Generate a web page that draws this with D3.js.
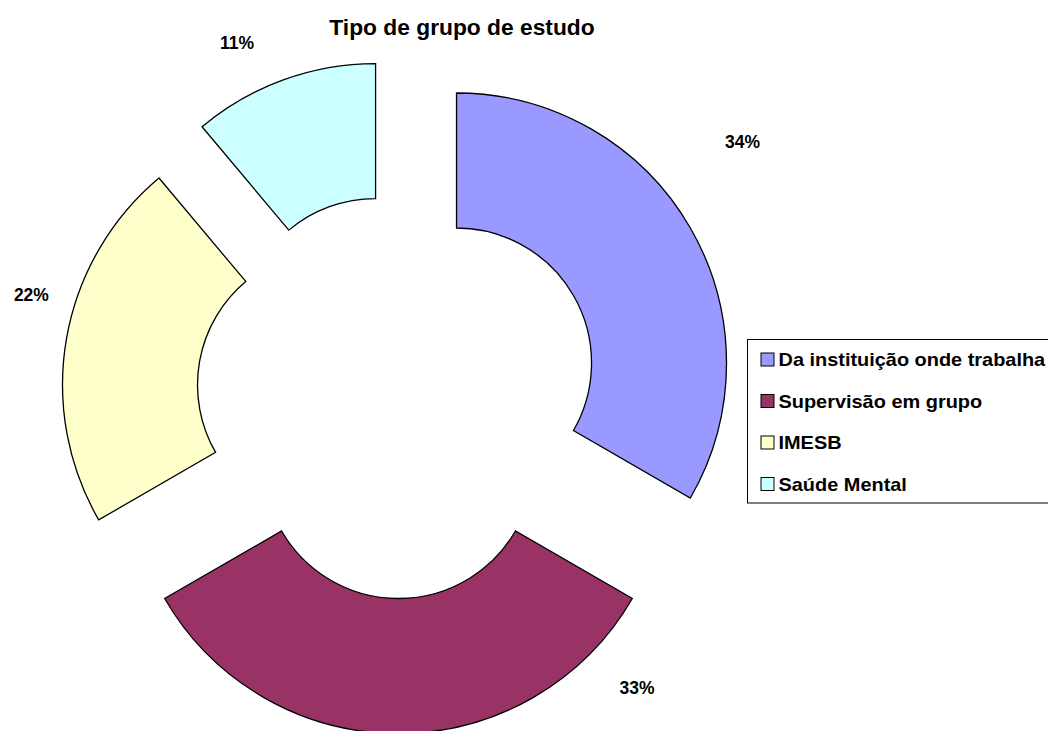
<!DOCTYPE html>
<html>
<head>
<meta charset="utf-8">
<script src="https://cdn.jsdelivr.net/npm/d3@7"></script>
<style>
	body { margin: 0; background: #fff; }
	text { font-family: Arial, "Liberation Sans", sans-serif; font-weight: bold; fill: #000; }
</style>
</head>
<body>
<svg id="chart" width="1048" height="731"></svg>
<script>
// data
var title = "Tipo de grupo de estudo";
var categories = ["Da instituição onde trabalha", "Supervisão em grupo", "IMESB", "Saúde Mental"];
var counts = [3, 3, 2, 1];
var colors = ["#9999FF", "#993366", "#FFFFCC", "#CCFFFF"];

// layout
var width = 1048, height = 731;
var cx = 398.5, cy = 396.5;
var outerR = 270, innerR = 135, explode = 67;
// where each percent label sits: fraction of the slice's angle, distance from centre
var labelSpots = [[0.446, 428], [0.172, 376], [0.569, 381], [0.387, 389]];

var svg = d3.select("#chart");

// percentages that add up to 100 (largest remainder, like the spreadsheet does)
var total = d3.sum(counts);
var raw = counts.map(function(c) { return c / total * 100; });
var pct = raw.map(Math.floor);
var left = 100 - d3.sum(pct);
var order = d3.range(raw.length).sort(function(a, b) {
	return (raw[b] - pct[b]) - (raw[a] - pct[a]) || a - b;
});
for (var i = 0; i < left; i++) pct[order[i]] += 1;

var pie = d3.pie()
	.sort(null)
	.value(function(d) { return d; });

var arc = d3.arc()
	.innerRadius(innerR)
	.outerRadius(outerR);

var slices = pie(counts);

var g = svg.append("g")
	.attr("transform", "translate(" + cx + "," + cy + ")");

g.selectAll("path")
	.data(slices)
	.enter()
	.append("path")
	.attr("d", arc)
	.attr("fill", function(d, i) { return colors[i]; })
	.attr("stroke", "#000")
	.attr("stroke-width", 1.3)
	.attr("stroke-linejoin", "miter")
	.attr("transform", function(d) {
		var mid = (d.startAngle + d.endAngle) / 2;
		return "translate(" + (Math.sin(mid) * explode) + "," + (-Math.cos(mid) * explode) + ")";
	});

// percent labels
g.selectAll("text.pct")
	.data(slices)
	.enter()
	.append("text")
	.attr("class", "pct")
	.attr("text-anchor", "middle")
	.attr("dy", "0.36em")
	.style("font-size", "17.5px")
	.attr("x", function(d, i) {
		var a = d.startAngle + labelSpots[i][0] * (d.endAngle - d.startAngle);
		return Math.sin(a) * labelSpots[i][1];
	})
	.attr("y", function(d, i) {
		var a = d.startAngle + labelSpots[i][0] * (d.endAngle - d.startAngle);
		return -Math.cos(a) * labelSpots[i][1];
	})
	.text(function(d, i) { return pct[i] + "%"; });

// title
svg.append("text")
	.attr("transform", "translate(462,35) scale(1.06,1)")
	.attr("text-anchor", "middle")
	.style("font-size", "21.5px")
	.text(title);

// legend
var legend = svg.append("g")
	.attr("transform", "translate(747.5,339.5)");

legend.append("rect")
	.attr("width", 320)
	.attr("height", 163.5)
	.attr("fill", "#fff")
	.attr("stroke", "#000")
	.attr("stroke-width", 1);

var legendY = d3.scalePoint()
	.domain(categories)
	.range([20, 144.5]);

var items = legend.selectAll("g.item")
	.data(categories)
	.enter()
	.append("g")
	.attr("class", "item")
	.attr("transform", function(d) { return "translate(0," + legendY(d) + ")"; });

items.append("rect")
	.attr("x", 13.5)
	.attr("y", -6.5)
	.attr("width", 13)
	.attr("height", 13)
	.attr("fill", function(d, i) { return colors[i]; })
	.attr("stroke", "#000")
	.attr("stroke-width", 1);

items.append("text")
	.attr("transform", "translate(31,6.8) scale(1.06,1)")
	.style("font-size", "18.8px")
	.text(function(d) { return d; });
</script>
</body>
</html>
